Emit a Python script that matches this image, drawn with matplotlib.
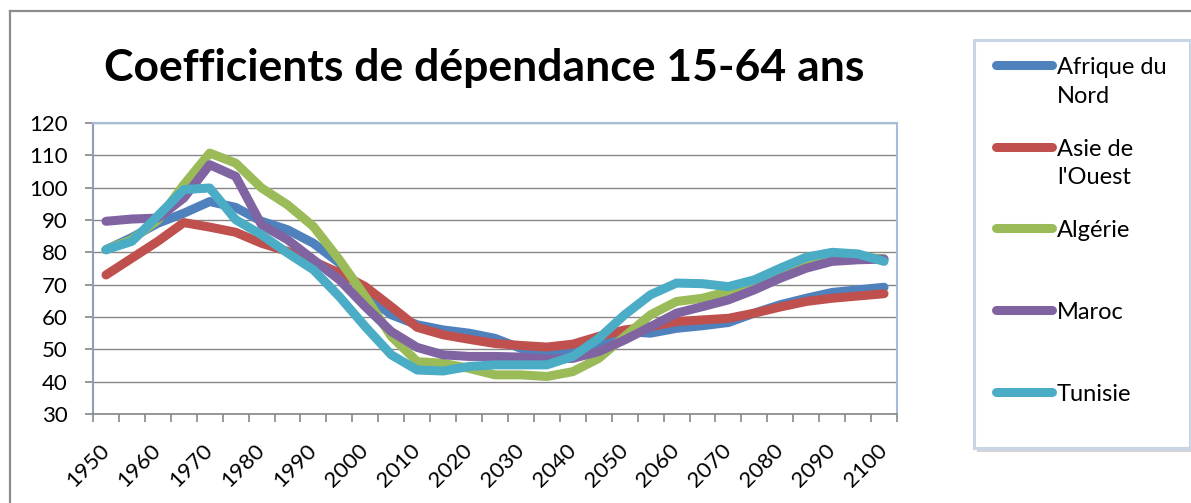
import numpy as np
import matplotlib.pyplot as plt
from matplotlib.lines import Line2D
from matplotlib.patches import Rectangle

# 5-year steps, 1950 -> 2100
years = list(range(1950, 2101, 5))

afrique_nord = [80.8, 84.6, 89.0, 92.1, 95.7, 93.9, 89.6, 87.0, 82.8, 76.7,
                66.8, 60.7, 57.6, 56.0, 55.0, 53.4, 50.3, 49.3, 49.8, 52.0,
                55.5, 55.0, 56.5, 57.3, 58.3, 61.2, 63.8, 65.8, 67.6, 68.4, 69.2]
asie_ouest = [73.0, 78.2, 83.4, 89.2, 87.8, 86.2, 82.8, 80.3, 77.2, 73.6,
              69.4, 63.2, 56.8, 54.5, 53.1, 51.8, 51.2, 50.7, 51.6, 54.0,
              56.0, 57.0, 58.6, 59.1, 59.6, 61.2, 63.1, 64.8, 65.8, 66.5, 67.2]
algerie = [80.8, 84.0, 90.0, 100.9, 110.7, 107.6, 99.9, 94.7, 88.0, 77.7,
           66.3, 54.0, 46.2, 45.7, 44.1, 42.1, 42.1, 41.6, 43.1, 47.2,
           54.0, 60.7, 64.8, 65.8, 67.9, 71.0, 74.0, 77.0, 78.5, 78.5, 78.0]
maroc = [89.6, 90.3, 90.6, 96.8, 107.1, 103.5, 88.5, 83.9, 77.7, 71.5,
         63.2, 55.5, 50.6, 48.3, 47.8, 47.8, 47.6, 47.0, 47.2, 49.3,
         52.9, 57.0, 61.2, 63.2, 65.3, 68.4, 72.0, 75.1, 77.2, 77.7, 77.9]
tunisie = [80.8, 83.4, 91.3, 99.4, 99.9, 90.1, 85.4, 79.8, 74.6, 66.3,
           57.0, 48.3, 43.6, 43.3, 44.7, 45.2, 45.2, 45.2, 47.8, 53.4,
           60.7, 66.9, 70.5, 70.3, 69.4, 71.5, 75.1, 78.5, 80.0, 79.5, 77.2]

series_names = ["Afrique du\nNord", "Asie de\nl'Ouest", "Algérie", "Maroc", "Tunisie"]
series_values = [afrique_nord, asie_ouest, algerie, maroc, tunisie]
colors = ["#4F81BD", "#C0504D", "#9BBB59", "#8064A2", "#4BACC6"]

title = "Coefficients de dépendance 15-64 ans"

W, H = 1191, 503
plt.rcParams['font.family'] = ['Lato', 'DejaVu Sans']

fig = plt.figure(figsize=(W / 100, H / 100), dpi=100)


def px(x, y):
    # pixel coords (top-left origin) -> figure fraction
    return x / W, 1 - y / H


# outer chart frame (cropped on the right and bottom)
fig.add_artist(Line2D([10 / W, 1], [1 - 11 / H] * 2, color="#8c8c8c", lw=1.6))
fig.add_artist(Line2D([10 / W] * 2, [0, 1 - 11 / H], color="#8c8c8c", lw=1.6))

left, top, right, bottom = 93, 123, 897, 414
ax = fig.add_axes([left / W, 1 - bottom / H, (right - left) / W, (bottom - top) / H])

x = np.arange(len(years)) + 0.5
for vals, c in zip(series_values, colors):
    ax.plot(x, vals, color=c, lw=6.5, solid_capstyle="round", solid_joinstyle="round")

ax.set_xlim(0, len(years))
ax.set_ylim(30, 120)
ax.set_yticks(range(30, 121, 10))
ax.yaxis.grid(True, color="#868686", lw=1.0)
ax.set_axisbelow(True)

# category axis: ticks between categories, labels every second one
ax.set_xticks(np.arange(len(years) + 1), minor=False)
ax.set_xticklabels([])
ax.set_xticks(x[::2], minor=True)
ax.set_xticklabels([str(y) for y in years[::2]], minor=True, rotation=45,
                   ha="right", va="center", rotation_mode="anchor", fontsize=16)
ax.tick_params(axis="x", which="minor", length=0, pad=24)
ax.tick_params(axis="x", which="major", length=6, color="#868686", width=1.2)
ax.tick_params(axis="y", length=6, color="#868686", width=1.2, labelsize=16, pad=12)

for s in ["top", "right"]:
    ax.spines[s].set_color("#a7bcd8")
    ax.spines[s].set_linewidth(1.5)
ax.spines["left"].set_color("#8e9fb8")
ax.spines["left"].set_linewidth(1.5)
ax.spines["bottom"].set_color("#868686")
ax.spines["bottom"].set_linewidth(1.2)

tx, ty = px(484, 68)
fig.text(tx, ty, title, fontsize=32, fontweight="bold", ha="center", va="center")

# legend box
lx0, ly0, lx1, ly1 = 974, 40, 1190, 448
sh = Rectangle(px(lx0 + 3, ly1 + 4), (lx1 - lx0) / W, (ly1 - ly0) / H,
               transform=fig.transFigure, facecolor="#b9b9b9", edgecolor="none", alpha=0.6)
fig.add_artist(sh)
box = Rectangle(px(lx0, ly1), (lx1 - lx0) / W, (ly1 - ly0) / H,
                transform=fig.transFigure, facecolor="white", edgecolor="#c9d5e6", lw=2.2)
fig.add_artist(box)
for i, (name, c) in enumerate(zip(series_names, colors)):
    yy = 65 + 81.7 * i
    x0, y0 = px(996, yy)
    x1, _ = px(1052, yy)
    fig.add_artist(Line2D([x0, x1], [y0, y0], color=c, lw=6.5, solid_capstyle="round"))
    tx, ty = px(1057, yy - 8)
    fig.text(tx, ty, name, fontsize=17, ha="left", va="top", linespacing=1.45)

fig.savefig("out.png", dpi=100)
